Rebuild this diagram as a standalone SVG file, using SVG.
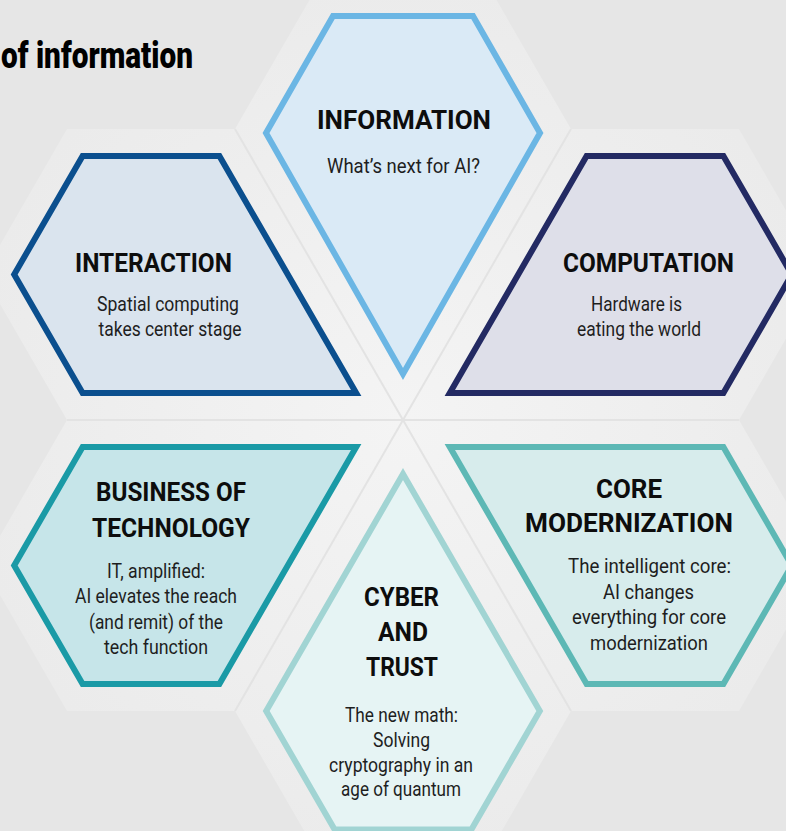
<svg xmlns="http://www.w3.org/2000/svg" width="786" height="831" viewBox="0 0 786 831">
  <defs>
    <radialGradient id="haloGrad" gradientUnits="userSpaceOnUse" cx="403" cy="420" r="440">
      <stop offset="0" stop-color="#f4f4f4"/>
      <stop offset="1" stop-color="#ebebeb"/>
    </radialGradient>
    <style>
      .halo { fill: url(#haloGrad); stroke: none; }
      .sep { stroke: #e3e3e3; stroke-width: 2; fill: none; }
      .shape { stroke-width: 6; stroke-linejoin: miter; stroke-miterlimit: 10; }
      .title { font-family: Roboto, "Liberation Sans", Arial, sans-serif; font-weight: 700; font-size: 26px; fill: #0d0d0d; text-anchor: middle; }
      .body { font-family: Roboto, "Liberation Sans", Arial, sans-serif; font-weight: 400; font-size: 19.5px; fill: #1e1e1e; text-anchor: middle; }
      .head { font-family: Roboto, "Liberation Sans", Arial, sans-serif; font-weight: 900; font-size: 37px; fill: #000000; }
    </style>
  </defs>

  <g id="background">
    <rect x="0" y="0" width="786" height="831" fill="#e6e6e6"/>
    <polygon class="halo" points="235,129 319,-16.5 487,-16.5 571,129 403,420"/>
    <polygon class="halo" points="571,129 739,129 823,274.5 739,420 403,420"/>
    <polygon class="halo" points="403,420 739,420 823,565.5 739,711 571,711"/>
    <polygon class="halo" points="403,420 571,711 487,856.5 319,856.5 235,711"/>
    <polygon class="halo" points="403,420 235,711 67,711 -17,565.5 67,420"/>
    <polygon class="halo" points="67,129 235,129 403,420 67,420 -17,274.5"/>
    <line class="sep" x1="67" y1="420" x2="739" y2="420"/>
    <line class="sep" x1="235" y1="129" x2="571" y2="711"/>
    <line class="sep" x1="571" y1="129" x2="235" y2="711"/>
  </g>

  <g id="heading">
    <text class="head" x="1" y="68" textLength="192" lengthAdjust="spacingAndGlyphs">of information</text>
  </g>

  <g id="connectors"></g>

  <g id="node-information">
    <polygon class="shape" fill="#daeaf6" stroke="#6bb6e4" points="333,16 473,16 540,133 403,374 266,133"/>
    <text class="title" x="404" y="129" textLength="174" lengthAdjust="spacingAndGlyphs">INFORMATION</text>
    <text class="body" x="403.5" y="173" textLength="153" lengthAdjust="spacingAndGlyphs">What’s next for AI?</text>
  </g>

  <g id="node-interaction">
    <polygon class="shape" fill="#dae4ee" stroke="#0b4f8e" points="82.6,156 219.4,156 356.2,393 82.6,393 14.2,274.5"/>
    <text class="title" x="153.5" y="272" textLength="157" lengthAdjust="spacingAndGlyphs">INTERACTION</text>
    <text class="body" x="168" y="311" textLength="142" lengthAdjust="spacingAndGlyphs">Spatial computing</text>
    <text class="body" x="170" y="335.5" textLength="143" lengthAdjust="spacingAndGlyphs">takes center stage</text>
  </g>

  <g id="node-computation">
    <polygon class="shape" fill="#dedfe9" stroke="#232a63" points="586.6,156 723.4,156 791.8,274.5 723.4,393 449.8,393"/>
    <text class="title" x="648.5" y="272" textLength="171" lengthAdjust="spacingAndGlyphs">COMPUTATION</text>
    <text class="body" x="636.5" y="311" textLength="91" lengthAdjust="spacingAndGlyphs">Hardware is</text>
    <text class="body" x="639" y="335.5" textLength="124" lengthAdjust="spacingAndGlyphs">eating the world</text>
  </g>

  <g id="node-business">
    <polygon class="shape" fill="#c6e5e9" stroke="#1a9aa6" points="82.6,447 356.2,447 219.4,684 82.6,684 14.2,565.5"/>
    <text class="title" x="171" y="501" textLength="150" lengthAdjust="spacingAndGlyphs">BUSINESS OF</text>
    <text class="title" x="171" y="537" textLength="158" lengthAdjust="spacingAndGlyphs">TECHNOLOGY</text>
    <text class="body" x="156" y="577.5" textLength="98" lengthAdjust="spacingAndGlyphs">IT, amplified:</text>
    <text class="body" x="156" y="603" textLength="162" lengthAdjust="spacingAndGlyphs">AI elevates the reach</text>
    <text class="body" x="156" y="628.5" textLength="134" lengthAdjust="spacingAndGlyphs">(and remit) of the</text>
    <text class="body" x="156" y="654" textLength="104" lengthAdjust="spacingAndGlyphs">tech function</text>
  </g>

  <g id="node-core">
    <polygon class="shape" fill="#d7ecec" stroke="#5db8b5" points="449.8,447 723.4,447 791.8,565.5 723.4,684 586.6,684"/>
    <text class="title" x="629" y="498" textLength="66" lengthAdjust="spacingAndGlyphs">CORE</text>
    <text class="title" x="629" y="532" textLength="208" lengthAdjust="spacingAndGlyphs">MODERNIZATION</text>
    <text class="body" x="649.5" y="573" textLength="163" lengthAdjust="spacingAndGlyphs">The intelligent core:</text>
    <text class="body" x="648.5" y="598.5" textLength="91" lengthAdjust="spacingAndGlyphs">AI changes</text>
    <text class="body" x="649" y="624" textLength="154" lengthAdjust="spacingAndGlyphs">everything for core</text>
    <text class="body" x="649" y="649.5" textLength="118" lengthAdjust="spacingAndGlyphs">modernization</text>
  </g>

  <g id="node-cyber">
    <polygon class="shape" fill="#e6f4f4" stroke="#a1d4d3" points="403,474 539.8,711 471.4,829.5 334.6,829.5 266.2,711"/>
    <text class="title" x="401.5" y="606" textLength="75" lengthAdjust="spacingAndGlyphs">CYBER</text>
    <text class="title" x="403" y="641" textLength="50" lengthAdjust="spacingAndGlyphs">AND</text>
    <text class="title" x="402" y="676" textLength="72" lengthAdjust="spacingAndGlyphs">TRUST</text>
    <text class="body" x="401.5" y="722" textLength="113" lengthAdjust="spacingAndGlyphs">The new math:</text>
    <text class="body" x="401.5" y="746.5" textLength="57" lengthAdjust="spacingAndGlyphs">Solving</text>
    <text class="body" x="401" y="771.5" textLength="144" lengthAdjust="spacingAndGlyphs">cryptography in an</text>
    <text class="body" x="401" y="795.5" textLength="120" lengthAdjust="spacingAndGlyphs">age of quantum</text>
  </g>
</svg>
